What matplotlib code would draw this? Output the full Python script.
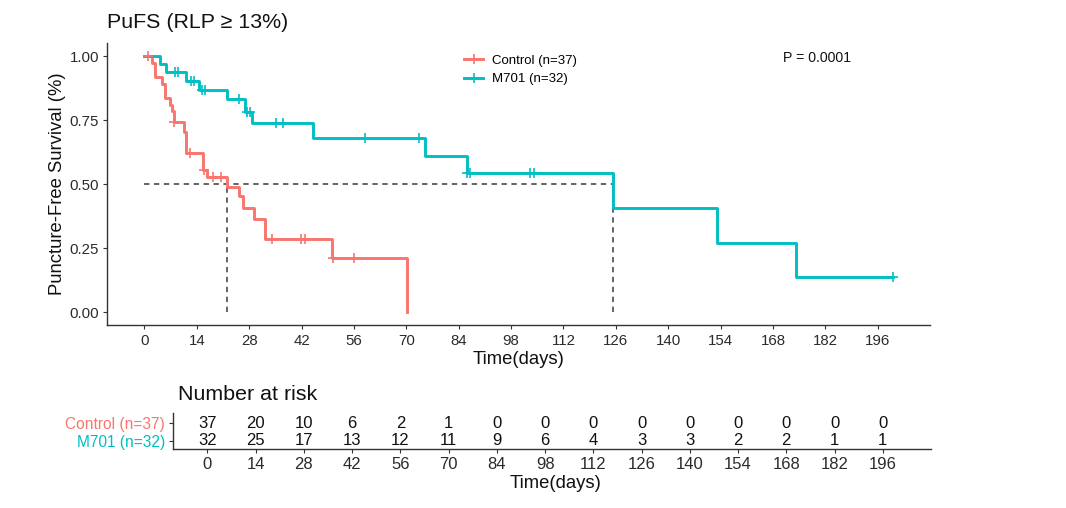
import numpy as np
import matplotlib
matplotlib.use("Agg")
import matplotlib.pyplot as plt
from matplotlib.lines import Line2D

plt.rcParams['font.family'] = ['Liberation Sans', 'DejaVu Sans']

# ---------------- data ----------------
ctrl_label = "Control (n=37)"
m701_label = "M701 (n=32)"
ctrl_color = "#F8766D"
m701_color = "#00BFC4"

ctrl_times = [0, 2.0, 2.9, 4.8, 5.6, 6.8, 7.5, 8.0, 10.5, 11.2, 15.7, 16.8, 22.2, 25.2, 26.3, 29.2, 32.2, 50.1, 70.2]
ctrl_surv = [1.0, 0.973, 0.919, 0.892, 0.838, 0.811, 0.784, 0.743, 0.703, 0.622, 0.557, 0.527, 0.490, 0.453, 0.407, 0.365, 0.285, 0.210, 0.0]
ctrl_censor = [0.9, 8.0, 12.3, 15.8, 18.3, 20.4, 34.1, 41.9, 42.8, 50.3, 56.0]

m701_times = [0, 4.2, 5.8, 11.0, 14.6, 22.0, 26.8, 28.8, 45.0, 75.1, 86.2, 125.3, 153.1, 174.3]
m701_surv = [1.0, 0.969, 0.938, 0.904, 0.868, 0.832, 0.782, 0.737, 0.680, 0.610, 0.543, 0.407, 0.272, 0.136]
m701_censor = [8.2, 9.1, 12.4, 13.3, 15.3, 16.1, 25.2, 27.3, 28.2, 35.2, 37.0, 59.1, 73.4, 86.3, 87.0, 103.2, 104.1, 200.2]

risk_times = [0, 14, 28, 42, 56, 70, 84, 98, 112, 126, 140, 154, 168, 182, 196]
ctrl_risk = [37, 20, 10, 6, 2, 1, 0, 0, 0, 0, 0, 0, 0, 0, 0]
m701_risk = [32, 25, 17, 13, 12, 11, 9, 6, 4, 3, 3, 2, 2, 1, 1]

x_ticks = list(range(0, 197, 14))
y_ticks = [0.0, 0.25, 0.5, 0.75, 1.0]
p_text = "P = 0.0001"
title = "PuFS (RLP \u2265 13%)"
ylab = "Puncture-Free Survival (%)"
xlab = "Time(days)"

# ---------------- helpers ----------------
def step_level(times, surv, t):
    idx = np.searchsorted(np.asarray(times), t, side='right') - 1
    return np.asarray(surv)[idx]

def median_time(times, surv):
    for t, s in zip(times, surv):
        if s <= 0.5:
            return t
    return None

W, H = 1066, 508
fig = plt.figure(figsize=(W / 100, H / 100), dpi=100)

def fx(px):
    return px / W

def fy(py):
    return 1 - py / H

axis_col = '#333333'
txt_col = '#2b2b2b'
lw_curve = 2.1

# ---------------- main plot ----------------
ax = fig.add_axes([fx(107), fy(325), (930 - 107) / W, (325 - 43.3) / H])
ax.set_xlim(-10, 210)
ax.set_ylim(-0.05, 1.05)

series = [
    (ctrl_times, ctrl_surv, ctrl_censor, ctrl_color, None),
    (m701_times, m701_surv, m701_censor, m701_color, 200.2),
]
for times, surv, cens, col, tend in series:
    tt = list(times)
    ss = list(surv)
    if tend is not None:
        tt.append(tend)
        ss.append(ss[-1])
    ax.step(tt, ss, where='post', color=col, lw=lw_curve, zorder=3)
    cy = [step_level(times, surv, c) for c in cens]
    ax.plot(cens, cy, ls='none', marker='+', ms=7, mew=1.2, color=col, zorder=4)

# median lines
med_c = median_time(ctrl_times, ctrl_surv)
med_m = median_time(m701_times, m701_surv)
dash_kw = dict(color='#3a3a3a', lw=1.1, ls=(0, (3.5, 3)), zorder=2)
ax.plot([0, max(med_c, med_m)], [0.5, 0.5], **dash_kw)
ax.plot([med_c, med_c], [0, 0.5], **dash_kw)
ax.plot([med_m, med_m], [0, 0.5], **dash_kw)

ax.set_xticks(x_ticks)
ax.set_yticks(y_ticks)
ax.set_yticklabels([f"{v:.2f}" for v in y_ticks])
for s in ['top', 'right']:
    ax.spines[s].set_visible(False)
for s in ['left', 'bottom']:
    ax.spines[s].set_color(axis_col)
    ax.spines[s].set_linewidth(1.0)
ax.tick_params(axis='both', colors=axis_col, length=2.6, width=0.8, labelsize=10.8, labelcolor=txt_col)
ax.tick_params(axis='x', pad=4.0)
ax.tick_params(axis='y', pad=3)

fig.text(fx(107), fy(22), title, fontsize=15.4, va='center', ha='left', color='#111111')
fig.text(fx(57), fy(184), ylab, fontsize=13.3, rotation=90, va='center', ha='center', color='#111111')
fig.text(fx(519), fy(359.5), xlab, fontsize=13.3, va='center', ha='center', color='#111111')
fig.text(fx(783), fy(57.7), p_text, fontsize=10.2, va='center', ha='left', color='#111111')

handles = [
    Line2D([], [], color=ctrl_color, lw=lw_curve, marker='+', ms=7, mew=1.2),
    Line2D([], [], color=m701_color, lw=lw_curve, marker='+', ms=7, mew=1.2),
]
ax.legend(handles, [ctrl_label, m701_label], loc='center left',
          bbox_to_anchor=(fx(464), fy(69.9)), bbox_transform=fig.transFigure,
          frameon=False, fontsize=9.5, handlelength=1.45, handletextpad=0.65,
          labelspacing=0.5, borderpad=0, borderaxespad=0)

# ---------------- risk table ----------------
tab = fig.add_axes([fx(173), fy(449.3), (931 - 173) / W, 36 / H])
tab.set_xlim(-10, 210)
tab.set_ylim(0.531, 2.565)
for t, n in zip(risk_times, ctrl_risk):
    tab.text(t, 2, str(n), ha='center', va='center', fontsize=12, color='#111111')
for t, n in zip(risk_times, m701_risk):
    tab.text(t, 1, str(n), ha='center', va='center', fontsize=12, color='#111111')
tab.set_xticks(risk_times)
tab.set_yticks([1, 2])
for s in ['top', 'right']:
    tab.spines[s].set_visible(False)
for s in ['left', 'bottom']:
    tab.spines[s].set_color(axis_col)
    tab.spines[s].set_linewidth(1.0)
tab.tick_params(axis='both', colors=axis_col, length=2.6, width=0.8)
tab.tick_params(axis='x', labelsize=12, labelcolor=txt_col, pad=3.2)
tab.tick_params(axis='y', pad=3, labelsize=11.2)
tab.set_yticklabels([m701_label, ctrl_label])
for lbl, col in zip(tab.get_yticklabels(), [m701_color, ctrl_color]):
    lbl.set_color(col)

fig.text(fx(178), fy(395), "Number at risk", fontsize=15.4, va='center', ha='left', color='#111111')
fig.text(fx(556), fy(483), xlab, fontsize=13.3, va='center', ha='center', color='#111111')

fig.savefig("out.png", dpi=100)
